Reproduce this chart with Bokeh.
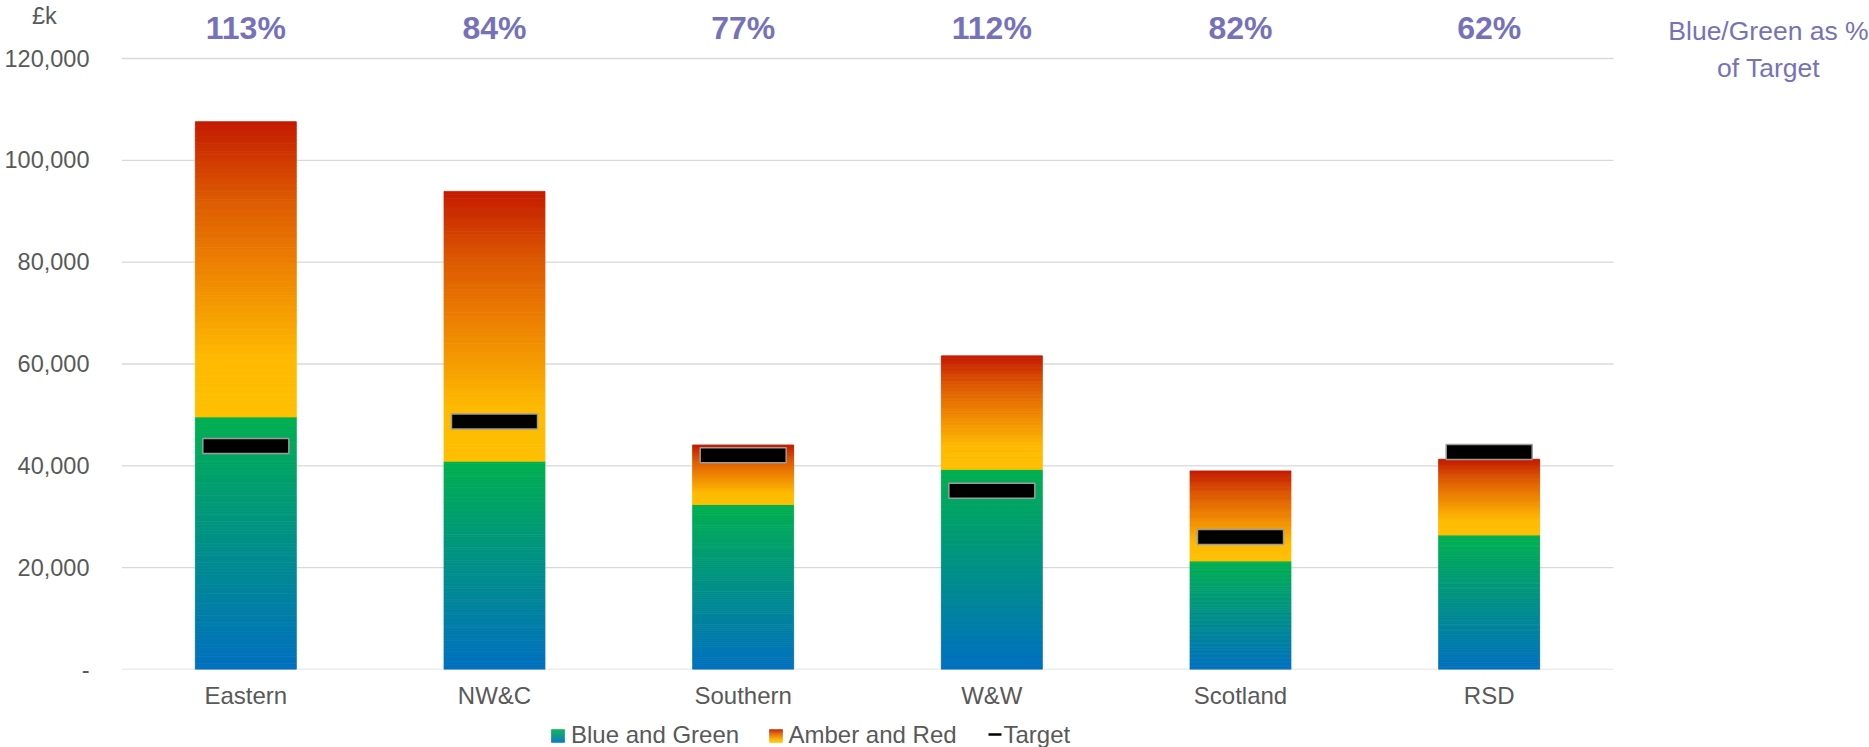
from bokeh.plotting import figure
from bokeh.layouts import column
from bokeh.models import Range1d, FixedTicker, ColumnDataSource
from bokeh.core.properties import value
from bokeh.embed import file_html
from bokeh.resources import INLINE

# ---- data ----
categories = ["Eastern", "NW&C", "Southern", "W&W", "Scotland", "RSD"]
blue_green = [49600, 40900, 32400, 39300, 21300, 26400]
total = [107600, 93900, 44100, 61600, 39000, 41300]
target = [43900, 48700, 42100, 35100, 26000, 42700]
pct_labels = ["113%", "84%", "77%", "112%", "82%", "62%"]
y_ticks = [0, 20000, 40000, 60000, 80000, 100000, 120000]
y_tick_labels = ["-", "20,000", "40,000", "60,000", "80,000", "100,000", "120,000"]
unit_label = "£k"
side_title = ["Blue/Green as %", "of Target"]
legend_labels = ["Blue and Green", "Amber and Red", "Target"]

FONT = "Liberation Sans"
GRAY = "#595959"
PURPLE = "#7672B9"
FS = "24px"

W = 1869
H1, H2 = 716, 31
LEFT = 121
frame_h = 669          # frame spans rows 0..669
row_120k = 58
cat_w = (1613 - LEFT) / len(categories)
y_end = y_ticks[-1] * frame_h / (frame_h - row_120k)
x_start = -0.5
x_end = x_start + (W - LEFT) / cat_w


def y_at(row):
    return y_end * (frame_h - row) / frame_h


xidx = list(range(len(categories)))

p = figure(width=W, height=H1, x_range=Range1d(x_start, x_end),
           y_range=Range1d(0, y_end), output_backend="svg", toolbar_location=None,
           min_border_left=LEFT, min_border_right=0, min_border_top=0,
           min_border_bottom=H1 - frame_h)
p.outline_line_color = None
p.background_fill_color = "white"
p.border_fill_color = "white"
p.xgrid.visible = False
p.ygrid.visible = False

# y axis (with unit label as top tick)
unit_tick = 128400
p.yaxis.ticker = FixedTicker(ticks=y_ticks + [unit_tick])
ov = {t: l for t, l in zip(y_ticks, y_tick_labels)}
ov[unit_tick] = unit_label + "\u00a0" * 5
p.yaxis.major_label_overrides = ov
p.yaxis.axis_line_color = None
p.yaxis.major_tick_line_color = None
p.yaxis.minor_tick_line_color = None
p.yaxis.major_label_standoff = 26
p.yaxis.major_label_text_font = FONT
p.yaxis.major_label_text_font_size = "23.5px"
p.yaxis.major_label_text_color = GRAY

# x axis (categories)
p.xaxis.ticker = FixedTicker(ticks=xidx)
p.xaxis.major_label_overrides = {i: c for i, c in zip(xidx, categories)}
p.xaxis.axis_line_color = None
p.xaxis.major_tick_line_color = None
p.xaxis.minor_tick_line_color = None
p.xaxis.major_label_standoff = 6
p.xaxis.major_label_text_font = FONT
p.xaxis.major_label_text_font_size = FS
p.xaxis.major_label_text_color = GRAY

# gridlines limited to the category area
p.segment(x0=[x_start] * len(y_ticks), x1=[x_start + len(categories)] * len(y_ticks),
          y0=y_ticks, y1=y_ticks, line_color="#D9D9D9", line_width=1.3)


def lerp_stops(stops, f):
    for (f0, c0), (f1, c1) in zip(stops[:-1], stops[1:]):
        if f <= f1:
            t = (f - f0) / (f1 - f0) if f1 > f0 else 0
            return "#%02x%02x%02x" % tuple(int(round(a + (b - a) * t)) for a, b in zip(c0, c1))
    return "#%02x%02x%02x" % stops[-1][1]


bg_stops = [(0.0, (0, 112, 192)), (1.0, (0, 176, 80))]
ar_stops = [(0.0, (255, 192, 0)), (0.2, (254, 186, 0)), (0.5, (238, 132, 0)),
            (0.75, (220, 88, 0)), (1.0, (196, 26, 0))]

N = 80
xs, bots, tops, cols = [], [], [], []
for i, g, t in zip(xidx, blue_green, total):
    for lo, hi, stops in ((0, g, bg_stops), (g, t, ar_stops)):
        for k in range(N):
            xs.append(i)
            bots.append(lo + (hi - lo) * k / N)
            tops.append(lo + (hi - lo) * (k + 1) / N)
            cols.append(lerp_stops(stops, (k + 0.5) / N))

src = ColumnDataSource(dict(x=xs, bottom=bots, top=tops, color=cols))
p.vbar(x="x", bottom="bottom", top="top", width=0.406, source=src,
       fill_color="color", line_color="color", line_width=0.8)

p.rect(x=xidx, y=target, width=0.346, height=15, height_units="screen",
       fill_color="black", line_color="#9C9C9C", line_width=1.5)

# percentage labels
p.text(x=xidx, y=[y_at(27)] * len(xidx), text=pct_labels,
       text_font=value(FONT), text_font_style="bold", text_font_size="32px",
       text_color=PURPLE, text_align="center", text_baseline="middle")

# side title
side_x = x_start + (1768 - LEFT) / cat_w
p.text(x=[side_x, side_x], y=[y_at(30.5), y_at(67.5)], text=side_title,
       text_font=value(FONT), text_font_size="26.5px", text_color=PURPLE,
       text_align="center", text_baseline="middle")

# ---- legend strip (frame aligned with the chart frame: x from LEFT to W) ----
p2 = figure(width=W, height=H2, x_range=Range1d(LEFT, W), y_range=Range1d(0, H2),
            output_backend="svg", toolbar_location=None,
            x_axis_location=None, y_axis_location=None,
            min_border_left=LEFT, min_border_right=0, min_border_top=0, min_border_bottom=0)
p2.outline_line_color = None
p2.xgrid.visible = False
p2.ygrid.visible = False
p2.background_fill_color = "white"
p2.border_fill_color = "white"


def row2(r):  # window row -> p2 y
    return (H1 + H2) - r


sw_left = [551, 769]
sw_size = 13
M = 13
lx, lb, lt, lc, lr = [], [], [], [], []
for left, stops in zip(sw_left, (bg_stops, ar_stops)):
    for k in range(M):
        lx.append(left)
        lr.append(left + sw_size)
        lb.append(row2(742) + sw_size * k / M)
        lt.append(row2(742) + sw_size * (k + 1) / M)
        lc.append(lerp_stops(stops, (k + 0.5) / M))
p2.quad(left=lx, right=lr, bottom=lb, top=lt, fill_color=lc, line_color=lc, line_width=0.5)
p2.segment(x0=[988], x1=[1001], y0=[row2(734)], y1=[row2(734)],
           line_color="black", line_width=2.5)
p2.text(x=[570.5, 788, 1003], y=[row2(733.5)] * 3, text=legend_labels,
        text_font=value(FONT), text_font_size=FS, text_color=GRAY,
        text_align="left", text_baseline="middle")

layout = column(p, p2)
open("out.html", "w").write(file_html(layout, INLINE))
